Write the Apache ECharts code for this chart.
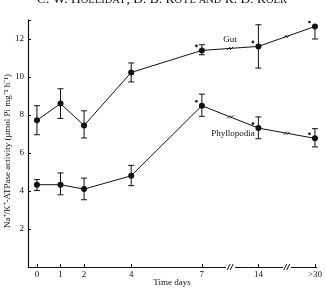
<!DOCTYPE html>
<html><head><meta charset="utf-8">
<script src="https://cdn.jsdelivr.net/npm/echarts@6/dist/echarts.min.js"></script>
<style>html,body{margin:0;padding:0;background:#fff}#c{width:325px;height:292px}</style>
</head><body><div id="c"></div>
<script>
const days = [0, 1, 2, 4, 7, 14, 30];
const xTickLabels = ['0', '1', '2', '4', '7', '14', '>30'];
const yTickValues = [2, 4, 6, 8, 10, 12];
const gut = [7.72, 8.6, 7.45, 10.24, 11.4, 11.61, 12.66];
const gutLow = [6.96, 7.82, 6.79, 9.74, 11.17, 10.47, 12.0];
const gutHigh = [8.49, 9.38, 8.22, 10.74, 11.7, 12.75, 12.66];
const phyl = [4.33, 4.33, 4.1, 4.8, 8.49, 7.31, 6.77];
const phylLow = [4.03, 3.8, 3.54, 4.28, 7.93, 6.75, 6.32];
const phylHigh = [4.6, 4.95, 4.68, 5.35, 9.1, 7.9, 7.28];
const starred = [false, false, false, false, true, true, true];

const FONT = 'Liberation Serif';
const INK = '#111';
const chart = echarts.init(document.getElementById('c'), null, {renderer: 'canvas'});

function pairs(vals) { return days.map((d, i) => [d, vals[i]]); }
function errData(lo, hi) { return days.map((d, i) => [d, lo[i], hi[i]]); }
function starData(vals) { return days.map((d, i) => [d, vals[i], starred[i] ? 1 : 0]); }

function errRender(params, api) {
  const x = api.value(0);
  const a = api.coord([x, api.value(1)]);
  const b = api.coord([x, api.value(2)]);
  const w = 3;
  const st = {stroke: INK, lineWidth: 1};
  return {type: 'group', children: [
    {type: 'line', shape: {x1: a[0], y1: a[1], x2: b[0], y2: b[1]}, style: st},
    {type: 'line', shape: {x1: a[0] - w, y1: a[1], x2: a[0] + w, y2: a[1]}, style: st},
    {type: 'line', shape: {x1: b[0] - w, y1: b[1], x2: b[0] + w, y2: b[1]}, style: st}
  ]};
}
function starRender(params, api) {
  if (!api.value(2)) return null;
  const p = api.coord([api.value(0), api.value(1)]);
  return {type: 'circle', shape: {cx: p[0] - 5.5, cy: p[1] - 4.5, r: 1.3}, style: {fill: INK}};
}

const lineStyle = {color: INK, width: 1};
chart.setOption({
  animation: false,
  grid: {left: 28, right: 7, top: 20, bottom: 25, containLabel: false},
  xAxis: {
    type: 'value', min: -0.38, max: 30.05,
    breaks: [{start: 8, end: 13, gap: 0.4}, {start: 15, end: 29, gap: 0.4}],
    breakArea: {show: false},
    axisLine: {show: true, onZero: false, lineStyle: {color: INK, width: 1.2}},
    axisTick: {show: true, inside: true, length: 3, customValues: days, lineStyle: {color: INK}},
    axisLabel: {customValues: days, color: INK, fontFamily: FONT, fontSize: 9, margin: 3,
      formatter: v => xTickLabels[days.indexOf(v)]},
    splitLine: {show: false}
  },
  yAxis: {
    type: 'value', min: 0, max: 13,
    axisLine: {show: true, onZero: false, lineStyle: {color: INK, width: 1.2}},
    axisTick: {show: true, inside: true, length: 3, customValues: yTickValues.concat([13]), lineStyle: {color: INK}},
    axisLabel: {customValues: yTickValues, color: INK, fontFamily: FONT, fontSize: 9, margin: 4},
    splitLine: {show: false}
  },
  series: [
    {type: 'line', data: pairs(gut), symbol: 'circle', symbolSize: 6, itemStyle: {color: INK}, lineStyle: lineStyle, z: 3},
    {type: 'line', data: pairs(phyl), symbol: 'circle', symbolSize: 6, itemStyle: {color: INK}, lineStyle: lineStyle, z: 3},
    {type: 'custom', data: errData(gutLow, gutHigh), renderItem: errRender, encode: {x: 0, y: [1, 2]}, z: 2},
    {type: 'custom', data: errData(phylLow, phylHigh), renderItem: errRender, encode: {x: 0, y: [1, 2]}, z: 2},
    {type: 'custom', data: starData(gut), renderItem: starRender, encode: {x: 0, y: 1}, z: 4},
    {type: 'custom', data: starData(phyl), renderItem: starRender, encode: {x: 0, y: 1}, z: 4}
  ]
});

// decorations: break marks, titles
const g = [];
function slash(cx, cy, len) {
  return [-1.5, 1.5].map(dx => ({type: 'line', shape: {x1: cx + dx - 1.5, y1: cy + len / 2, x2: cx + dx + 1.5, y2: cy - len / 2}, style: {stroke: INK, lineWidth: 1}}));
}
const y0 = chart.convertToPixel({gridIndex: 0}, [0, 0])[1];
[10.5, 22].forEach(v => {
  const px = chart.convertToPixel({gridIndex: 0}, [v, 0])[0];
  g.push({type: 'rect', shape: {x: px - 2, y: y0 - 2, width: 4, height: 4}, style: {fill: '#fff'}, z: 100});
  slash(px, y0, 6).forEach(s => { s.z = 101; g.push(s); });
});
[gut, phyl].forEach(vals => {
  [[4, 5], [5, 6]].forEach(([i, j]) => {
    const a = chart.convertToPixel({gridIndex: 0}, [days[i], vals[i]]);
    const b = chart.convertToPixel({gridIndex: 0}, [days[j], vals[j]]);
    slash((a[0] + b[0]) / 2, (a[1] + b[1]) / 2, 3).forEach(s => { s.z = 101; g.push(s); });
  });
});
g.push({type: 'text', x: 162, y: 6, z: 10, style: {
  text: '{a|C. W. H}{b|OLLIDAY}{a|, D. B. R}{b|OYE AND} {a|R. D. R}{b|OER}',
  align: 'center', verticalAlign: 'bottom', fill: INK,
  rich: {a: {fontFamily: FONT, fontSize: 13.5, fill: INK, verticalAlign: 'bottom'},
         b: {fontFamily: FONT, fontSize: 10.5, fill: INK, verticalAlign: 'bottom'}}
}});
g.push({type: 'text', x: 8, y: 151, rotation: Math.PI / 2, z: 10, style: {
  text: 'Na\u207A/K\u207A-ATPase activity (\u03BCmol Pi mg\u207B\u00B9 h\u207B\u00B9)',
  align: 'center', verticalAlign: 'middle', fill: INK, fontFamily: FONT, fontSize: 9
}});
g.push({type: 'text', x: 230, y: 40, z: 10, style: {text: 'Gut', align: 'center', verticalAlign: 'middle', fill: INK, fontFamily: FONT, fontSize: 9}});
g.push({type: 'text', x: 233, y: 134, z: 10, style: {text: 'Phyllopodia', align: 'center', verticalAlign: 'middle', fill: INK, fontFamily: FONT, fontSize: 9}});
g.push({type: 'text', x: 172, y: 283, z: 10, style: {text: 'Time days', align: 'center', verticalAlign: 'middle', fill: INK, fontFamily: FONT, fontSize: 9}});
chart.setOption({graphic: g});
</script></body></html>
